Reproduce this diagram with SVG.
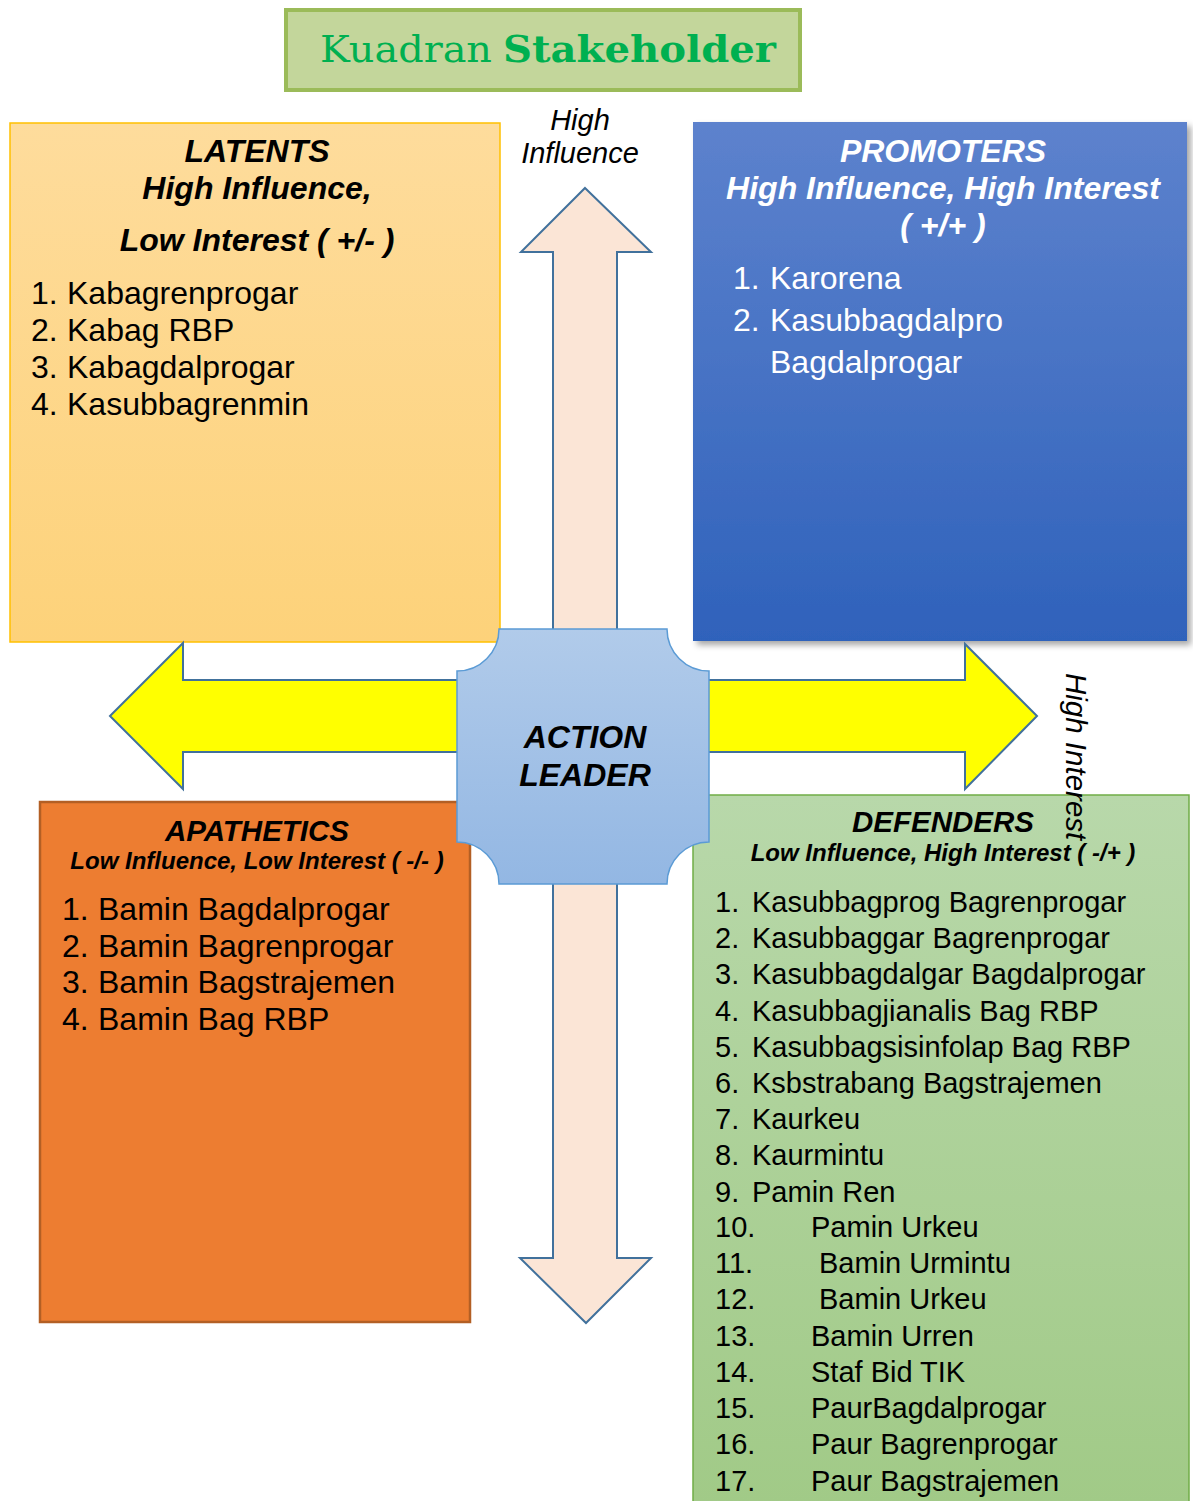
<svg xmlns="http://www.w3.org/2000/svg" width="1193" height="1501" viewBox="0 0 1193 1501">
<defs>
<linearGradient id="gLat" x1="0" y1="0" x2="0" y2="1"><stop offset="0" stop-color="#FEDC9C"/><stop offset="1" stop-color="#FDD27A"/></linearGradient>
<linearGradient id="gPro" x1="0" y1="0" x2="0" y2="1"><stop offset="0" stop-color="#5D82CD"/><stop offset="1" stop-color="#2F62BB"/></linearGradient>
<linearGradient id="gDef" x1="0" y1="0" x2="0" y2="1"><stop offset="0" stop-color="#B8D8AA"/><stop offset="1" stop-color="#A1CA87"/></linearGradient>
<linearGradient id="gCen" x1="0" y1="0" x2="0" y2="1"><stop offset="0" stop-color="#B1CBEA"/><stop offset="1" stop-color="#93B7E3"/></linearGradient>
<filter id="shadow" x="-5%" y="-5%" width="115%" height="115%"><feDropShadow dx="4" dy="4" stdDeviation="3" flood-color="#000" flood-opacity="0.35"/></filter>
<style>
text{font-family:"Liberation Sans",Arial,sans-serif;}
.hd{font-weight:bold;font-style:italic;text-anchor:middle;}
.it{font-style:italic;}
.l32{font-size:32px;}
.l29{font-size:29px;}
.wh{fill:#FFFFFF;}
.arrow{stroke:#41719C;stroke-width:2;stroke-linejoin:miter;}
</style>
</defs>
<rect width="1193" height="1501" fill="#FFFFFF"/>

<g id="title">
<rect x="286" y="10" width="514" height="80" fill="#C3D69B" stroke="#9BBB59" stroke-width="4"/>
<text y="62" style="font-family:'DejaVu Serif','Liberation Serif',serif;font-size:37px;fill:#00B050"><tspan x="320" textLength="172" lengthAdjust="spacingAndGlyphs">Kuadran</tspan><tspan x="503" font-weight="bold" textLength="273" lengthAdjust="spacingAndGlyphs">Stakeholder</tspan></text>
</g>

<g id="latents">
<rect x="10" y="123" width="490" height="519" fill="url(#gLat)" stroke="#FFC000" stroke-width="1.5"/>
<text class="hd" font-size="32" x="257" y="162">LATENTS</text>
<text class="hd" font-size="32" x="257" y="199">High Influence,</text>
<text class="hd" font-size="32" x="257" y="251">Low Interest ( +/- )</text>
<g class="l32">
<text x="31" y="304">1.</text><text x="67" y="304">Kabagrenprogar</text>
<text x="31" y="341">2.</text><text x="67" y="341">Kabag RBP</text>
<text x="31" y="378">3.</text><text x="67" y="378">Kabagdalprogar</text>
<text x="31" y="415">4.</text><text x="67" y="415">Kasubbagrenmin</text>
</g>
</g>

<g id="promoters">
<rect x="693" y="122" width="494" height="519" fill="url(#gPro)" filter="url(#shadow)"/>
<text class="hd wh" font-size="32" x="943" y="162">PROMOTERS</text>
<text class="hd wh" font-size="32" x="943" y="199">High Influence, High Interest</text>
<text class="hd wh" font-size="32" x="943" y="236">( +/+ )</text>
<g class="l32 wh">
<text x="733" y="289">1.</text><text x="770" y="289">Karorena</text>
<text x="733" y="331">2.</text><text x="770" y="331">Kasubbagdalpro</text>
<text x="770" y="373">Bagdalprogar</text>
</g>
</g>

<g id="apathetics">
<rect x="40" y="802" width="430" height="520" fill="#ED7D31" stroke="#B35F24" stroke-width="2.5"/>
<text class="hd" font-size="29.5" x="257" y="841">APATHETICS</text>
<text class="hd" font-size="24" x="257" y="869">Low Influence, Low Interest ( -/- )</text>
<g class="l32">
<text x="62" y="920">1.</text><text x="98" y="920">Bamin Bagdalprogar</text>
<text x="62" y="957">2.</text><text x="98" y="957">Bamin Bagrenprogar</text>
<text x="62" y="993">3.</text><text x="98" y="993">Bamin Bagstrajemen</text>
<text x="62" y="1030">4.</text><text x="98" y="1030">Bamin Bag RBP</text>
</g>
</g>

<g id="defenders">
<rect x="693" y="795" width="496" height="710" fill="url(#gDef)" stroke="#70AD47" stroke-width="1.5"/>
<text class="hd" font-size="29.5" x="943" y="832">DEFENDERS</text>
<text class="hd" font-size="24" x="943" y="861">Low Influence, High Interest ( -/+ )</text>
<g class="l29">
<text x="715" y="912">1.</text><text x="752" y="912">Kasubbagprog Bagrenprogar</text>
<text x="715" y="948">2.</text><text x="752" y="948">Kasubbaggar Bagrenprogar</text>
<text x="715" y="984">3.</text><text x="752" y="984">Kasubbagdalgar Bagdalprogar</text>
<text x="715" y="1021">4.</text><text x="752" y="1021">Kasubbagjianalis Bag RBP</text>
<text x="715" y="1057">5.</text><text x="752" y="1057">Kasubbagsisinfolap Bag RBP</text>
<text x="715" y="1093">6.</text><text x="752" y="1093">Ksbstrabang Bagstrajemen</text>
<text x="715" y="1129">7.</text><text x="752" y="1129">Kaurkeu</text>
<text x="715" y="1165">8.</text><text x="752" y="1165">Kaurmintu</text>
<text x="715" y="1202">9.</text><text x="752" y="1202">Pamin Ren</text>
<text x="715" y="1237">10.</text><text x="811" y="1237">Pamin Urkeu</text>
<text x="715" y="1273">11.</text><text x="819" y="1273">Bamin Urmintu</text>
<text x="715" y="1309">12.</text><text x="819" y="1309">Bamin Urkeu</text>
<text x="715" y="1346">13.</text><text x="811" y="1346">Bamin Urren</text>
<text x="715" y="1382">14.</text><text x="811" y="1382">Staf Bid TIK</text>
<text x="715" y="1418">15.</text><text x="811" y="1418">PaurBagdalprogar</text>
<text x="715" y="1454">16.</text><text x="811" y="1454">Paur Bagrenprogar</text>
<text x="715" y="1491">17.</text><text x="811" y="1491">Paur Bagstrajemen</text>
</g>
</g>

<g id="connectors">
<path class="arrow" fill="#FBE5D6" d="M585 188 L651 252 L617 252 L617 1258 L651 1258 L586 1323 L520 1258 L553 1258 L553 252 L521 252 Z"/>
<path class="arrow" fill="#FFFF00" d="M110 716 L183 643 L183 680 L965 680 L965 644 L1037 716 L965 789 L965 752 L183 752 L183 789 Z"/>
</g>

<g id="action-leader">
<path d="M499 629 L667 629 A42 42 0 0 0 709 671 L709 842 A42 42 0 0 0 667 884 L499 884 A42 42 0 0 0 457 842 L457 671 A42 42 0 0 0 499 629 Z" fill="url(#gCen)" stroke="#5B9BD5" stroke-width="1.5"/>
<text class="hd" font-size="32" x="585" y="748">ACTION</text>
<text class="hd" font-size="32" x="585" y="786">LEADER</text>
</g>

<g id="axis-labels">
<text class="it" font-size="29" text-anchor="middle" x="580" y="130">High</text>
<text class="it" font-size="29" text-anchor="middle" x="580" y="163">Influence</text>
<text class="it" font-size="29.5" transform="translate(1066,673) rotate(90)">High Interest</text>
</g>
</svg>
